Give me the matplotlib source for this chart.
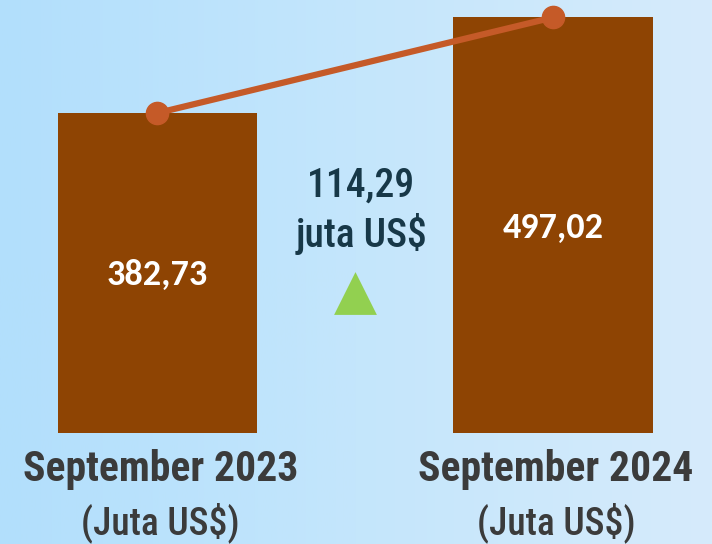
import numpy as np
import matplotlib
matplotlib.use("Agg")
import matplotlib.pyplot as plt
from matplotlib.colors import LinearSegmentedColormap

categories = ["September 2023", "September 2024"]
units = ["(Juta US$)", "(Juta US$)"]
values = [382.73, 497.02]
value_labels = ["382,73", "497,02"]
diff_label = ["114,29", "juta US$"]

cond = ["Roboto Condensed", "DejaVu Sans"]
calib = ["Carlito", "DejaVu Sans"]

fig = plt.figure(figsize=(7.12, 5.44), dpi=100)
ax = fig.add_axes([0, 0, 1, 1])
x0, x1 = -0.398, 1.402
y0, y1 = -132.8, 517.9
ax.set_xlim(x0, x1)
ax.set_ylim(y0, y1)
ax.axis("off")

cmap = LinearSegmentedColormap.from_list("bg", ["#b2dffc", "#c4e6fc", "#d6ebfb"])
grad = np.linspace(0, 1, 256).reshape(1, -1)
ax.imshow(grad, extent=[x0, x1, y0, y1], aspect="auto", cmap=cmap, zorder=0)

xs = np.arange(len(values))
ax.bar(xs, values, width=0.505, color="#8e4403", zorder=2)
ax.plot(xs, values, color="#c55a28", lw=4.5, marker="o", ms=16, zorder=3)

for x, v, lab in zip(xs, values, value_labels):
    ax.text(x, v * 0.493, lab, color="white", fontsize=26, fontweight="bold",
            family=calib, ha="center", va="center", zorder=4)

ax.text(0.515, 296, diff_label[0], color="#173848", fontsize=28.5, family=cond,
        fontweight="medium", ha="center", va="center", zorder=4)
ax.text(0.515, 238, diff_label[1], color="#173848", fontsize=28.5, family=cond,
        fontweight="medium", ha="center", va="center", zorder=4)
ax.scatter([0.5], [167], marker="^", s=950, color="#92d050", zorder=4, linewidths=0)

for x, c, u in zip(xs, categories, units):
    ax.text(x + 0.008, -44, c, color="#3b3b3b", fontsize=30, fontweight="bold",
            family=cond, ha="center", va="center", zorder=4)
    ax.text(x + 0.008, -107, u, color="#3b3b3b", fontsize=27, fontweight="medium",
            family=cond, ha="center", va="center", zorder=4)

fig.savefig("out.png", dpi=100)
